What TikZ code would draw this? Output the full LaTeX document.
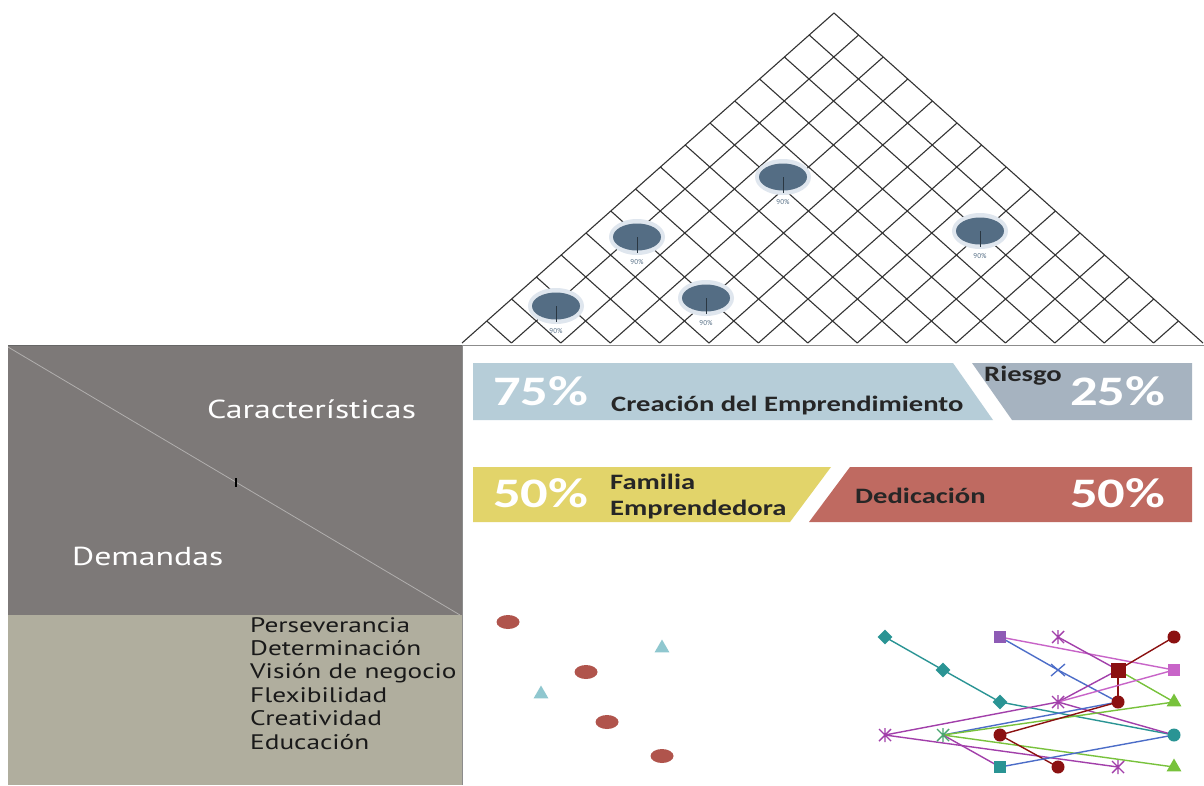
\documentclass[tikz,border=0pt]{standalone}
\usepackage{fontspec}
\usepackage{graphicx}
\usetikzlibrary{calc,shapes.geometric}
\newfontfamily\barfont{Carlito}
\newfontfamily\sidefont{PT Sans}
\newcommand{\wide}[1]{\scalebox{1.3}[1]{#1}}
\definecolor{boxdark}{HTML}{7D7978}
\definecolor{boxkhaki}{HTML}{B0AE9E}
\definecolor{barblue}{HTML}{B6CDD8}
\definecolor{bargray}{HTML}{A6B3C0}
\definecolor{baryellow}{HTML}{E2D46A}
\definecolor{barred}{HTML}{BF6A61}
\definecolor{ballblue}{HTML}{546D84}
\definecolor{ballhalo}{HTML}{DFE6EE}
\definecolor{dotred}{HTML}{B0544C}
\definecolor{dotcyan}{HTML}{8FC7CF}
\definecolor{mkteal}{HTML}{2A9494}
\definecolor{mkviolet}{HTML}{8E5BB5}
\definecolor{mkpurple}{HTML}{A23FAA}
\definecolor{mkpink}{HTML}{C864C8}
\definecolor{mkred}{HTML}{8B1111}
\definecolor{mkgreen}{HTML}{78C23C}
\definecolor{mkblue}{HTML}{4C6DC8}
\tikzset{
  gridline/.style={draw=black!80, line width=1.1pt},
  bartext/.style={anchor=base west, inner sep=0pt, text=black!85,
    font=\barfont\bfseries\fontsize{22}{24}\selectfont},
  barpct/.style={anchor=base west, inner sep=0pt, text=white,
    font=\barfont\bfseries\fontsize{42}{44}\selectfont},
  sidetext/.style={anchor=base west, inner sep=0pt, text=white,
    font=\sidefont\fontsize{26}{28}\selectfont},
  listtext/.style={anchor=base west, inner sep=0pt, text=black!90,
    font=\sidefont\fontsize{21}{23}\selectfont},
  balllabel/.style={inner sep=0pt, text=ballblue,
    font=\sidefont\fontsize{7}{8}\selectfont},
  chartline/.style={line width=1.4pt},
  mkdiamond/.style={diamond, fill=mkteal, minimum size=15pt, inner sep=0pt},
  mkcircle/.style={circle, fill=#1, minimum size=13pt, inner sep=0pt},
  mksquare/.style={rectangle, fill=#1, minimum size=12pt, inner sep=0pt},
  mktriangle/.style={regular polygon, regular polygon sides=3, fill=#1,
    minimum size=17pt, inner sep=0pt},
  starmark/.pic={\draw[line width=1.4pt] (0,-7)--(0,7) (-6,-6)--(6,6) (-6,6)--(6,-6);},
  crossmark/.pic={\draw[line width=1.3pt] (-7,-6)--(7,6) (-7,6)--(7,-6);}
}
\begin{document}
\begin{tikzpicture}[x=1pt,y=-1pt]
  \useasboundingbox (0,0) rectangle (1204,785);
  \fill[white] (0,0) rectangle (1204,785);
  % left boxes
  \fill[boxdark] (8,345) rectangle (462,615);
  \fill[boxkhaki] (8,615) rectangle (462,785);
  \draw[black!60, line width=1pt] (8,345) -- (462,345);
  \draw[boxdark!60!white, line width=0.8pt] (8,347) -- (460,615);
  \draw[black, line width=1.6pt] (236,478) -- (236,487);
  \draw[black!45, line width=1pt] (462,345) -- (1204,345);
  \draw[black!45, line width=1pt] (462,345) -- (462,785);
  \node[sidetext] (carac) at (207,418) {\wide{Características}};
  \node[sidetext] (deman) at (72,565) {\wide{Demandas}};
  \foreach \t [count=\k] in {Perseverancia, Determinación, Visión de negocio,
      Flexibilidad, Creatividad, Educación}
    \node[listtext] (dem\k) at (250,{632+23.4*(\k-1)}) {\wide{\t}};
  % pyramid grid
  \coordinate (A) at (462,343);
  \coordinate (B) at (1203,343);
  \coordinate (C) at (834,13);
  \foreach \i in {0,...,15} {
    \pgfmathsetmacro\f{\i/15}
    \pgfmathsetmacro\g{1-\i/15}
    \draw[gridline] ($(A)!\f!(B)$) -- ($(B)!\g!(C)$);
    \draw[gridline] ($(A)!\f!(B)$) -- ($(A)!\f!(C)$);
  }
  % balls
  \foreach \bx/\by/\bn in {556/306/ballA, 637/237/ballB, 783/177/ballC,
      706/298/ballD, 980/231/ballE} {
    \fill[ballhalo] (\bx,\by) ellipse [x radius=28, y radius=18];
    \fill[ballblue] (\bx,\by) ellipse [x radius=24, y radius=13.5];
    \draw[ballblue!50!black, line width=0.5pt] (\bx,\by) -- ++(0,16);
    \node[balllabel] (\bn) at (\bx,\by+25) {90\%};
  }
  % bars
  \fill[barblue] (473,363) -- (953,363) -- (993,420) -- (473,420) -- cycle;
  \fill[bargray] (972,363) -- (1192,363) -- (1192,420) -- (1012,420) -- cycle;
  \fill[baryellow] (473,467) -- (831,467) -- (790,522) -- (473,522) -- cycle;
  \fill[barred] (850,467) -- (1192,467) -- (1192,522) -- (809,522) -- cycle;
  \node[barpct] (p75) at (493,405) {\wide{75\%}};
  \node[bartext] (crea) at (611,411) {\wide{Creación del Emprendimiento}};
  \node[bartext] (ries) at (984,381) {\wide{Riesgo}};
  \node[barpct] (p25) at (1070,405) {\wide{25\%}};
  \node[barpct] (p50a) at (493,507) {\wide{50\%}};
  \node[bartext] (fam) at (610,489) {\wide{Familia}};
  \node[bartext] (empr) at (610,515) {\wide{Emprendedora}};
  \node[bartext] (dedi) at (855,503) {\wide{Dedicación}};
  \node[barpct] (p50b) at (1070,507) {\wide{50\%}};
  % scatter
  \foreach \sx/\sy in {508/622, 586/672, 607/722, 662/756}
    \fill[dotred] (\sx,\sy) ellipse [x radius=11.5, y radius=7];
  \node[mktriangle=dotcyan] (tri1) at (662,648) {};
  \node[mktriangle=dotcyan] (tri2) at (541,694) {};
  % line chart
  \coordinate (d1) at (885,637);
  \coordinate (d2) at (943,670);
  \coordinate (d3) at (1000,702);
  \coordinate (c1) at (1174,735);
  \coordinate (s1) at (1000,637);
  \coordinate (x1) at (1058,670);
  \coordinate (a1) at (1058,637);
  \coordinate (r1) at (1174,637);
  \coordinate (q1) at (1118,670);
  \coordinate (ps) at (1174,670);
  \coordinate (g1) at (1174,702);
  \coordinate (r2) at (1118,702);
  \coordinate (a2) at (1058,702);
  \coordinate (a3) at (885,735);
  \coordinate (ga) at (943,735);
  \coordinate (r3) at (1000,735);
  \coordinate (ts) at (1000,767);
  \coordinate (r4) at (1058,767);
  \coordinate (a4) at (1118,767);
  \coordinate (g2) at (1174,767);
  \draw[chartline, mkteal] (d1) -- (d2) -- (d3) -- (c1);
  \draw[chartline, mkpink] (s1) -- (ps);
  \draw[chartline, mkblue] (s1) -- (x1) -- (r2);
  \draw[chartline, mkpurple] (a1) -- (q1);
  \draw[chartline, mkred] (q1) -- (r1);
  \draw[chartline, mkred] (q1) -- (r2);
  \draw[chartline, mkgreen] (q1) -- (g1);
  \draw[chartline, mkpurple] (a2) -- (q1);
  \draw[chartline, mkpink] (a2) -- (ps);
  \draw[chartline, mkpurple] (a2) -- (c1);
  \draw[chartline, mkpurple] (a3) -- (a2);
  \draw[chartline, mkpurple] (a3) -- (a4);
  \draw[chartline, mkblue] (ga) -- (r2);
  \draw[chartline, mkgreen] (ga) -- (g1);
  \draw[chartline, mkgreen] (ga) -- (g2);
  \draw[chartline, mkpurple] (ga) -- (ts);
  \draw[chartline, mkred] (r3) -- (r2);
  \draw[chartline, mkred] (r3) -- (r4);
  \draw[chartline, mkblue] (ts) -- (c1);
  \node[mkdiamond] (md1) at (d1) {};
  \node[mkdiamond] (md2) at (d2) {};
  \node[mkdiamond] (md3) at (d3) {};
  \node[mkcircle=mkteal] (mc1) at (c1) {};
  \node[mksquare=mkviolet] (ms1) at (s1) {};
  \node[mksquare=mkpink] (mps) at (ps) {};
  \node[mksquare=mkred, minimum size=15pt] (mq1) at (q1) {};
  \node[mksquare=mkteal] (mts) at (ts) {};
  \node[mkcircle=mkred] (mr1) at (r1) {};
  \node[mkcircle=mkred] (mr2) at (r2) {};
  \node[mkcircle=mkred] (mr3) at (r3) {};
  \node[mkcircle=mkred] (mr4) at (r4) {};
  \node[mktriangle=mkgreen] (mg1) at (g1) {};
  \node[mktriangle=mkgreen] (mg2) at (g2) {};
  \pic[mkblue] at (x1) {crossmark};
  \pic[mkpurple] at (a1) {starmark};
  \pic[mkpurple] at (a2) {starmark};
  \pic[mkpurple] at (a3) {starmark};
  \pic[mkpurple] at (a4) {starmark};
  \pic[mkteal!60!mkgreen] at (ga) {starmark};
\end{tikzpicture}
\end{document}
